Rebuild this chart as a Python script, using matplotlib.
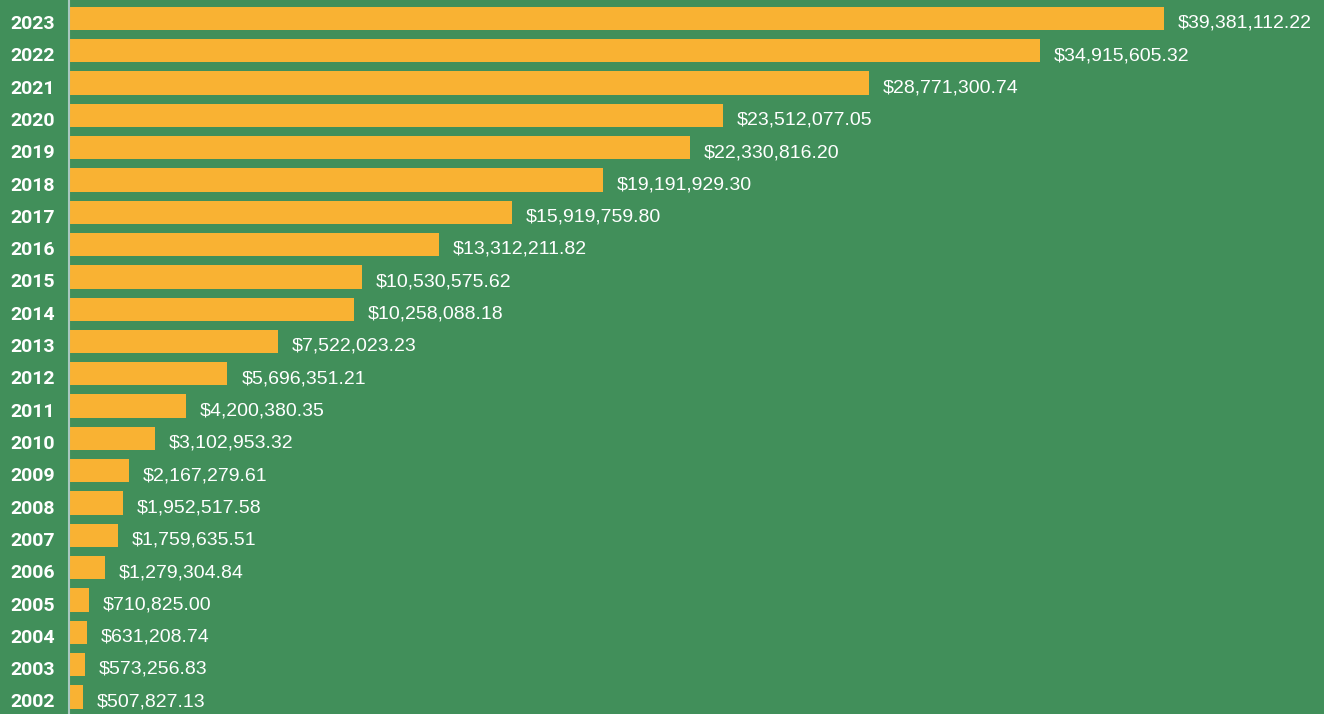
import matplotlib
matplotlib.use("Agg")
import matplotlib.pyplot as plt

years = [2002, 2003, 2004, 2005, 2006, 2007, 2008, 2009, 2010, 2011, 2012,
         2013, 2014, 2015, 2016, 2017, 2018, 2019, 2020, 2021, 2022, 2023]
amounts = [507827.13, 573256.83, 631208.74, 710825.00, 1279304.84, 1759635.51,
           1952517.58, 2167279.61, 3102953.32, 4200380.35, 5696351.21,
           7522023.23, 10258088.18, 10530575.62, 13312211.82, 15919759.80,
           19191929.30, 22330816.20, 23512077.05, 28771300.74, 34915605.32,
           39381112.22]

green = "#418F5A"
orange = "#F9B233"

fig = plt.figure(figsize=(13.24, 7.14), dpi=100, facecolor=green)
ax = fig.add_axes([69/1324, 0, 1 - 69/1324, 1], facecolor=green)

pos = range(len(years))
ax.barh(pos, amounts, height=0.72, color=orange, edgecolor="none")

# value labels
for i, v in enumerate(amounts):
    ax.annotate("${:,.2f}".format(v), (v, i), xytext=(10, -3.5), textcoords="offset points",
                va="center", ha="left", color="white", fontsize=14,
                family="Liberation Sans")

# year labels, left aligned, a bit below bar centre
ytrans = ax.get_yaxis_transform()
for i, y in enumerate(years):
    ax.annotate(str(y), (0, i), xycoords=ytrans, xytext=(-42.5, -4),
                textcoords="offset points", ha="left", va="center",
                fontsize=14, fontweight="bold", color="white", family="Roboto",
                annotation_clip=False)

ax.set_xlim(0, 45.13e6)
ax.set_ylim(-0.53, 21.57)
ax.set_yticks([])
ax.set_xticks([])
for s in ["top", "right", "bottom"]:
    ax.spines[s].set_visible(False)
ax.spines["left"].set_color("#A9C8C0")
ax.spines["left"].set_linewidth(1.5)

fig.savefig("out.png", dpi=100, facecolor=green)
